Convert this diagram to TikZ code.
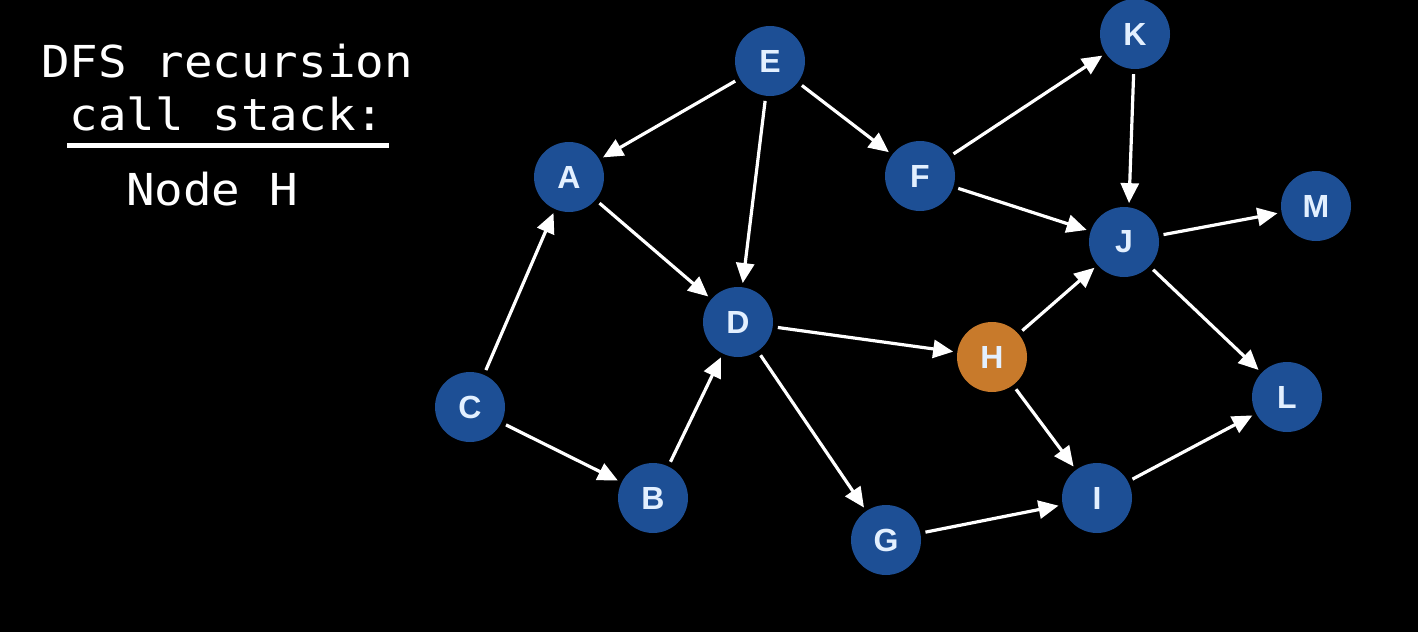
\documentclass[tikz,border=0pt]{standalone}
\usepackage{fontspec}
\setmainfont{Liberation Sans}
\newfontfamily\monofont[FakeStretch=1.08]{DejaVu Sans Mono}
\usetikzlibrary{arrows.meta}
\definecolor{nodeblue}{HTML}{1D4F95}
\definecolor{nodeorange}{HTML}{C87A2B}
\definecolor{lettercol}{HTML}{E3F0FF}
\begin{document}
\begin{tikzpicture}[x=1pt,y=-1pt,
  vertex/.style={circle, fill=nodeblue, minimum size=70pt, inner sep=0pt,
    text=lettercol, font=\fontsize{32}{32}\selectfont\bfseries},
  current/.style={vertex, fill=nodeorange},
  edge/.style={draw=white, line width=3.2pt, -{Triangle[length=20pt,width=18pt]},
    shorten >=4pt, shorten <=5pt},
  caption/.style={text=white, inner sep=0pt, anchor=base,
    font=\monofont\fontsize{44}{44}\selectfont}]

% background
\fill[black] (0,0) rectangle (1418,632);
\useasboundingbox (0,0) rectangle (1418,632);

% call stack panel
\node[caption] (t1) at (227,77) {DFS recursion};
\node[caption] (t2) at (227,130) {call stack:};
\draw[white, line width=5pt] (67,145) -- (389,145);
\node[caption] (t3) at (212,205) {Node H};

% graph vertices
\node[vertex] (E) at (770,61) {E};
\node[vertex] (K) at (1135,34) {K};
\node[vertex] (A) at (569,177) {A};
\node[vertex] (F) at (920,176) {F};
\node[vertex] (J) at (1124,242) {J};
\node[vertex] (M) at (1316,206) {M};
\node[vertex] (D) at (738,322) {D};
\node[current] (H) at (992,357) {H};
\node[vertex] (C) at (470,407) {C};
\node[vertex] (L) at (1287,397) {L};
\node[vertex] (B) at (653,498) {B};
\node[vertex] (I) at (1097,498) {I};
\node[vertex] (G) at (886,540) {G};

% directed edges
\draw[edge] (E) -- (A);
\draw[edge] (E) -- (D);
\draw[edge] (E) -- (F);
\draw[edge] (F) -- (K);
\draw[edge] (F) -- (J);
\draw[edge] (K.-92) -- (J.82);
\draw[edge] (J) -- (M);
\draw[edge] (J) -- (L);
\draw[edge] (A) -- (D);
\draw[edge] (C) -- (A);
\draw[edge] (C) -- (B);
\draw[edge] (B) -- (D);
\draw[edge] (D) -- (H);
\draw[edge] (D) -- (G);
\draw[edge] (H) -- (J);
\draw[edge] (H) -- (I);
\draw[edge] (G) -- (I);
\draw[edge] (I) -- (L);
\end{tikzpicture}
\end{document}
